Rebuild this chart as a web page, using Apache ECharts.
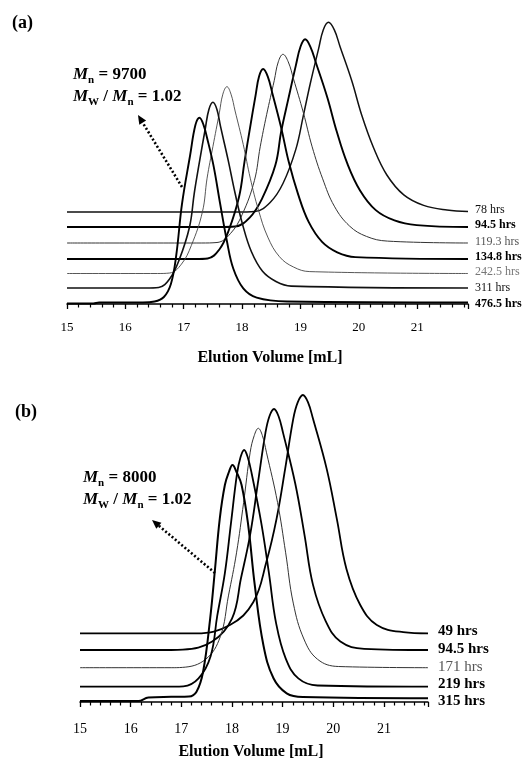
<!DOCTYPE html>
<html><head><meta charset="utf-8">
<script src="https://cdn.jsdelivr.net/npm/echarts/dist/echarts.min.js"></script>
<style>html,body{margin:0;padding:0;background:#fff}#c{width:524px;height:762px}</style>
</head><body><div id="c"></div>
<script>
// Panel (a) labels and curves: [elution volume mL, offset signal]
const labelsA = ['78 hrs','94.5 hrs','119.3 hrs','134.8 hrs','242.5 hrs','311 hrs','476.5 hrs'];
const a78 = [[15,92],[17.9,92],[18.22,92.5],[18.48,101.5],[18.70,120.5],[18.92,154.6],[19.05,188.7],[19.17,221],[19.31,255.1],[19.39,274.1],[19.48,281.7],[19.58,274.1],[19.68,257],[19.88,222.9],[20.05,188.7],[20.25,156.5],[20.48,129],[20.77,109.1],[21.11,98.6],[21.51,93.9],[21.87,92.5]];
const a94 = [[15,77],[17.6,77],[17.88,77.5],[18.13,86.4],[18.34,105.2],[18.57,138.9],[18.67,172.7],[18.79,204.6],[18.92,238.4],[19.00,257.2],[19.08,264.7],[19.17,257.2],[19.27,240.3],[19.46,206.5],[19.62,172.7],[19.80,140.8],[20.02,113.6],[20.29,93.9],[20.61,83.6],[20.99,78.9],[21.87,77]];
const a119 = [[15,61],[17.3,61],[17.57,61.5],[17.80,70.4],[18.00,89.3],[18.21,123.3],[18.31,157.2],[18.42,189.3],[18.55,223.3],[18.62,242.2],[18.70,249.7],[18.79,242.2],[18.88,225.2],[19.05,191.2],[19.20,157.2],[19.38,125.2],[19.58,97.8],[19.84,78],[20.13,67.6],[20.49,62.9],[21.87,61]];
const a134 = [[15,45],[17.2,45],[17.41,45.5],[17.61,54.5],[17.77,73.5],[17.95,107.7],[18.04,141.9],[18.13,174.2],[18.23,208.4],[18.29,227.4],[18.36,235],[18.44,227.4],[18.52,210.3],[18.67,176.1],[18.80,141.9],[18.96,109.6],[19.14,82.1],[19.37,62.1],[19.63,51.7],[19.94,46.9],[21.87,45]];
const a242 = [[15,30.5],[16.55,30.5],[16.76,31],[16.96,39.8],[17.13,58.5],[17.32,92.1],[17.40,125.8],[17.50,157.5],[17.61,191.1],[17.67,209.8],[17.74,217.3],[17.81,209.8],[17.88,193],[18.02,159.4],[18.14,125.8],[18.28,94],[18.44,66.9],[18.64,47.3],[18.88,37],[19.16,32.4],[21.87,30.5]];
const a311 = [[15,16],[16.35,16],[16.57,16.5],[16.76,25.3],[16.92,43.9],[17.10,77.3],[17.18,110.7],[17.27,142.3],[17.37,175.7],[17.43,194.3],[17.50,201.7],[17.57,194.3],[17.63,177.6],[17.76,144.1],[17.88,110.7],[18.01,79.1],[18.16,52.2],[18.35,32.7],[18.58,22.5],[18.84,17.9],[21.87,16]];
const a476 = [[15,0.5],[15.45,0.5],[15.55,1.5],[16.3,1.5],[16.5,2.5],[16.66,7],[16.78,20],[16.87,48],[16.97,100],[17.11,149],[17.20,178.9],[17.27,186.3],[17.34,178.9],[17.40,166],[17.51,138.4],[17.62,101.5],[17.74,62.8],[17.85,35.2],[18.02,15.6],[18.25,6.4],[18.77,2.5],[21.87,1.5]];

// Panel (b)
const labelsB = ['49 hrs','94.5 hrs','171 hrs','219 hrs','315 hrs'];
const b49 = [[15,68.7],[17.3,68.7],[17.96,77],[18.42,99.7],[18.68,140.2],[18.88,183.1],[19.05,233.1],[19.21,283.2],[19.30,299.9],[19.40,307],[19.50,299.9],[19.60,283.2],[19.87,233.1],[20.07,183.1],[20.26,133],[20.53,97.3],[20.86,77],[21.38,69.9],[21.87,68.7]];
const b94 = [[15,52],[16.8,52],[17.03,52.3],[17.61,60.4],[18.00,83.3],[18.18,124.3],[18.36,167.7],[18.51,218.3],[18.66,268.9],[18.74,285.8],[18.83,293],[18.92,285.8],[19.01,268.9],[19.25,218.3],[19.43,167.7],[19.60,117.1],[19.85,80.9],[20.14,60.4],[20.61,53.2],[21.87,52]];
const b171 = [[15,34.3],[16.8,34.3],[17.02,34.6],[17.48,42.7],[17.77,65.4],[17.93,106.1],[18.09,149.2],[18.23,199.5],[18.36,249.8],[18.44,266.5],[18.52,273.7],[18.60,266.5],[18.68,249.8],[18.90,199.5],[19.06,149.2],[19.21,98.9],[19.42,63],[19.69,42.7],[20.10,35.5],[21.87,34.3]];
const b219 = [[15,15.3],[16.85,15.3],[17.04,15.6],[17.34,23.6],[17.58,46.1],[17.71,86.3],[17.86,128.9],[17.98,178.6],[18.10,228.3],[18.17,244.9],[18.24,252],[18.31,244.9],[18.39,228.3],[18.58,178.6],[18.73,128.9],[18.87,79.2],[19.06,43.7],[19.31,23.6],[19.69,16.5],[21.87,15.3]];
const b315 = [[15,1],[16.15,1],[16.35,4.5],[16.8,5.2],[17.15,5.5],[17.30,10.3],[17.43,30.3],[17.57,83.7],[17.66,130],[17.76,183.7],[17.86,217],[17.94,230],[18.01,237],[18.09,230],[18.19,217],[18.32,177],[18.45,117],[18.62,57],[18.82,23.7],[19.08,8.7],[19.4,4.9],[21.87,3.7]];

const xMin = 15, xMax = 21.87;
const annA = ['9700', '1.02'];
const annB = ['8000', '1.02'];

const dataA = [a78, a94, a119, a134, a242, a311, a476];
const dataB = [b49, b94, b171, b219, b315];
const styleA = [
  {w:1.5, c:'#111', fw:'normal', lc:'#111', dy:-2},
  {w:1.9, c:'#000', fw:'bold', lc:'#000', dy:-2},
  {w:1.0, c:'#333', fw:'normal', lc:'#555', dy:-1},
  {w:1.9, c:'#000', fw:'bold', lc:'#000', dy:-2},
  {w:0.9, c:'#444', fw:'normal', lc:'#777', dy:-1.5},
  {w:1.6, c:'#111', fw:'normal', lc:'#111', dy:0},
  {w:1.9, c:'#000', fw:'bold', lc:'#000', dy:1}
];
const styleB = [
  {w:1.8, c:'#000', fw:'bold', lc:'#000', dy:-2},
  {w:1.8, c:'#000', fw:'bold', lc:'#000', dy:-1},
  {w:1.0, c:'#333', fw:'normal', lc:'#555', dy:-1},
  {w:1.8, c:'#000', fw:'bold', lc:'#000', dy:-2.5},
  {w:2.0, c:'#000', fw:'bold', lc:'#000', dy:3}
];
const SERIF = '"Liberation Serif","DejaVu Serif",serif';

function mkSeries(data, names, styles, idx, fs, dist) {
  return data.map((d, i) => ({
    type: 'line', name: names[i], xAxisIndex: idx, yAxisIndex: idx,
    data: d, smooth: 0.4, symbol: 'none', silent: true, clip: false,
    lineStyle: {width: styles[i].w, color: styles[i].c},
    endLabel: {show: true, formatter: names[i], distance: dist, offset: [0, styles[i].dy], fontFamily: SERIF,
      fontSize: fs, fontWeight: styles[i].fw, color: styles[i].lc}
  }));
}

function xAx(grid, fs, margin) {
  return {
    gridIndex: grid, type: 'value', min: xMin, max: xMax, interval: 1,
    axisLine: {show: true, lineStyle: {color: '#000', width: 1.5}},
    axisTick: {show: true, length: 5, lineStyle: {color: '#000', width: 1.3}},
    minorTick: {show: true, splitNumber: 5, length: 3.5, lineStyle: {color: '#000', width: 1.2}},
    splitLine: {show: false},
    axisLabel: {fontFamily: SERIF, fontSize: fs, color: '#000', margin: margin,
      formatter: v => (Math.abs(v - Math.round(v)) < 1e-6 ? String(Math.round(v)) : '')}
  };
}

function annText(x, y, mn, pdi) {
  const rich = {
    m: {fontFamily: SERIF, fontSize: 17, fontStyle: 'italic', fontWeight: 'bold', lineHeight: 22, fill: '#000'},
    s: {fontFamily: SERIF, fontSize: 11, fontWeight: 'bold', lineHeight: 12, verticalAlign: 'bottom', fill: '#000'},
    t: {fontFamily: SERIF, fontSize: 17, fontWeight: 'bold', lineHeight: 22, fill: '#000'}
  };
  return [
    {type: 'text', x: x, y: y, style: {text: '{m|M}{s|n}{t| = ' + mn + '}', rich: rich, verticalAlign: 'middle'}},
    {type: 'text', x: x, y: y + 22, style: {text: '{m|M}{s|W}{t| / }{m|M}{s|n}{t| = ' + pdi + '}', rich: rich, verticalAlign: 'middle'}}
  ];
}

function arrow(x1, y1, x2, y2) {
  const dx = x2 - x1, dy = y2 - y1, L = Math.hypot(dx, dy);
  const ux = dx / L, uy = dy / L;
  const bx = x2 - ux * 9, by = y2 - uy * 9;
  const px = -uy * 4, py = ux * 4;
  return [
    {type: 'line', shape: {x1: x1, y1: y1, x2: bx, y2: by}, style: {stroke: '#000', lineWidth: 2.6, lineDash: [2, 2.2]}},
    {type: 'polygon', shape: {points: [[x2, y2], [bx + px, by + py], [bx - px, by - py]]}, style: {fill: '#000'}}
  ];
}

const chart = echarts.init(document.getElementById('c'), null, {renderer: 'canvas'});
chart.setOption({
  animation: false,
  backgroundColor: '#fff',
  grid: [
    {left: 67, top: 4, width: 401, height: 300},
    {left: 80, top: 382, width: 348, height: 320}
  ],
  xAxis: [xAx(0, 13, 17), xAx(1, 14, 20)],
  yAxis: [
    {gridIndex: 0, type: 'value', min: 0, max: 300, show: false},
    {gridIndex: 1, type: 'value', min: 0, max: 320, show: false}
  ],
  series: mkSeries(dataA, labelsA, styleA, 0, 12, 7).concat(mkSeries(dataB, labelsB, styleB, 1, 15, 10)),
  graphic: [
    {type: 'text', x: 12, y: 23, style: {text: '(a)', fontFamily: SERIF, fontSize: 18, fontWeight: 'bold', fill: '#000', verticalAlign: 'middle'}},
    {type: 'text', x: 15, y: 412, style: {text: '(b)', fontFamily: SERIF, fontSize: 18, fontWeight: 'bold', fill: '#000', verticalAlign: 'middle'}},
    {type: 'text', x: 270, y: 358, style: {text: 'Elution Volume [mL]', fontFamily: SERIF, fontSize: 16, fontWeight: 'bold', fill: '#000', align: 'center', verticalAlign: 'middle'}},
    {type: 'text', x: 251, y: 752, style: {text: 'Elution Volume [mL]', fontFamily: SERIF, fontSize: 16, fontWeight: 'bold', fill: '#000', align: 'center', verticalAlign: 'middle'}}
  ].concat(annText(73, 75, annA[0], annA[1]), annText(83, 478, annB[0], annB[1]),
           arrow(182, 187, 138, 115), arrow(215, 573, 152, 520))
});
</script></body></html>
